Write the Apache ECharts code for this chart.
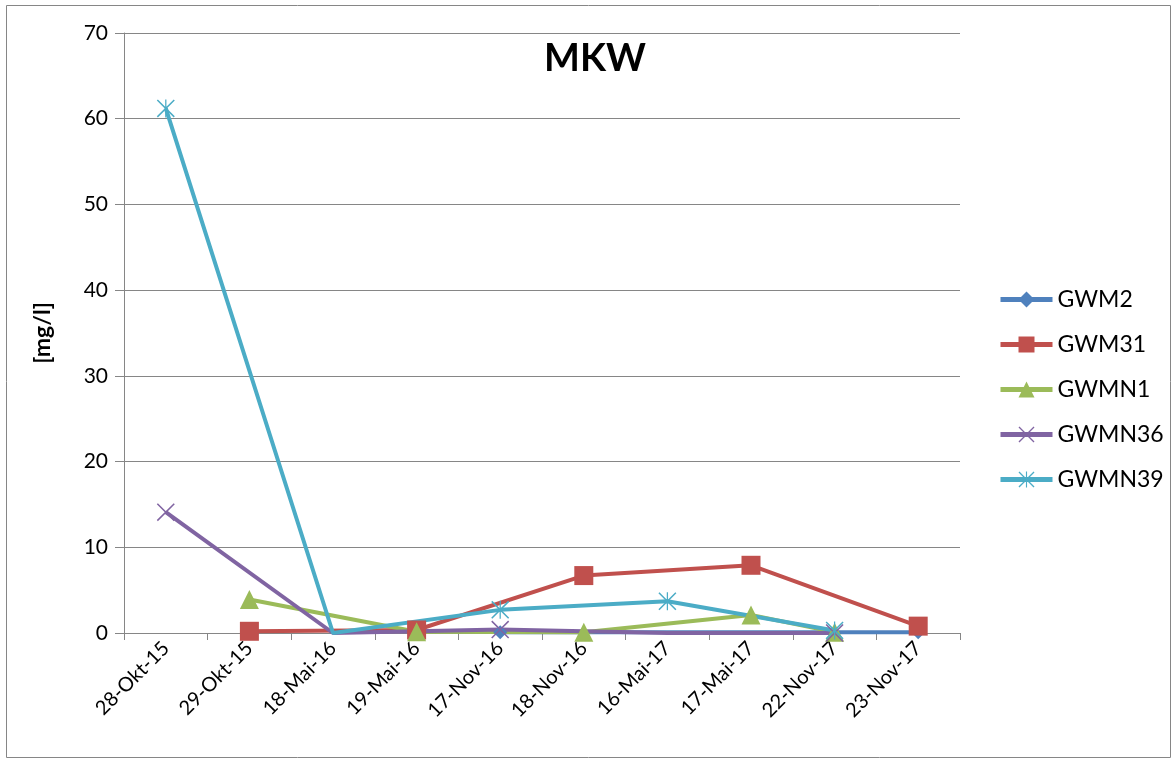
<!DOCTYPE html>
<html><head><meta charset="utf-8">
<script src="https://cdn.jsdelivr.net/npm/echarts@6/dist/echarts.min.js"></script>
<style>html,body{margin:0;padding:0;background:#fff}#c{width:1173px;height:760px}</style>
</head><body><div id="c"></div>
<script>
var categories = ['28-Okt-15','29-Okt-15','18-Mai-16','19-Mai-16','17-Nov-16','18-Nov-16','16-Mai-17','17-Mai-17','22-Nov-17','23-Nov-17'];
var GWM2   = [null, null, null, null, 0.1, null, null, null, null, 0.1];
var GWM31  = [null, 0.2, null, 0.35, null, 6.7, null, 7.9, null, 0.8];
var GWMN1  = [null, 3.9, null, 0.15, null, 0.1, null, 2.1, 0.1, null];
var GWMN36 = [14.1, null, 0, null, 0.4, null, 0, null, 0, null];
var GWMN39 = [61.2, null, 0, null, 2.7, null, 3.7, null, 0.3, null];
var yTicks = {min: 0, max: 70, interval: 10};
// points drawn without a visible marker in the reference
var noMarker = {GWMN36: [2, 6], GWMN39: [2]};

var xPath = 'path://M0,1.2 L1.2,0 L20,18.8 L18.8,20 Z M18.8,0 L20,1.2 L1.2,20 L0,18.8 Z';
var starPath = 'path://M0,1.2 L1.2,0 L20,18.8 L18.8,20 Z M18.8,0 L20,1.2 L1.2,20 L0,18.8 Z M9.3,0 L10.7,0 L10.7,20 L9.3,20 Z';
var font = 'Lato, "Liberation Sans", sans-serif';

function mk(name, data, color, symbol, size) {
  var hide = noMarker[name] || [];
  var items = data.map(function (v, i) {
    return hide.indexOf(i) >= 0 ? {value: v, symbol: 'none'} : v;
  });
  return {
    name: name, type: 'line', data: items, connectNulls: true,
    symbol: symbol, symbolSize: size, showAllSymbol: true,
    lineStyle: {color: color, width: 4},
    itemStyle: {color: color},
    emphasis: {disabled: true}
  };
}

var chart = echarts.init(document.getElementById('c'), null, {renderer: 'canvas'});
chart.setOption({
  animation: false,
  backgroundColor: '#fff',
  title: {text: 'MKW', left: 590, top: 35, textAlign: 'center',
    textStyle: {fontFamily: font, fontSize: 38, fontWeight: 'bold', color: '#000'}},
  color: ['#4F81BD','#C0504D','#9BBB59','#8064A2','#4BACC6'],
  legend: {
    orient: 'vertical', left: 993, top: 283, itemWidth: 52, itemHeight: 20, itemGap: 22,
    lineStyle: {width: 5},
    textStyle: {fontFamily: font, fontSize: 23, color: '#000'},
    data: ['GWM2','GWM31','GWMN1','GWMN36','GWMN39']
  },
  graphic: [{type: 'rect', shape: {x: 6.5, y: 5.5, width: 1164, height: 752},
    style: {fill: 'none', stroke: '#868686', lineWidth: 1}, silent: true}],
  grid: {left: 124, right: 213, top: 33, bottom: 127, containLabel: false},
  xAxis: {
    type: 'category', data: categories, boundaryGap: true,
    axisLine: {lineStyle: {color: '#868686', width: 1}},
    axisTick: {show: true, alignWithLabel: false, length: 7, lineStyle: {color: '#868686'}},
    axisLabel: {interval: 0, rotate: 45, fontFamily: font, fontSize: 20, color: '#000', margin: 12}
  },
  yAxis: {
    type: 'value', min: yTicks.min, max: yTicks.max, interval: yTicks.interval,
    name: '[mg/l]', nameLocation: 'middle', nameGap: 70, nameRotate: 90,
    nameTextStyle: {fontFamily: font, fontSize: 23, fontWeight: 'bold', color: '#000'},
    axisLine: {show: true, lineStyle: {color: '#868686', width: 1}},
    axisTick: {show: true, length: 9, lineStyle: {color: '#868686'}},
    axisLabel: {fontFamily: font, fontSize: 21, color: '#000', margin: 16},
    splitLine: {lineStyle: {color: '#868686', width: 1}}
  },
  series: [
    mk('GWM2', GWM2, '#4F81BD', 'diamond', 14),
    mk('GWM31', GWM31, '#C0504D', 'rect', 19),
    mk('GWMN1', GWMN1, '#9BBB59', 'triangle', 19),
    mk('GWMN36', GWMN36, '#8064A2', xPath, 18),
    mk('GWMN39', GWMN39, '#4BACC6', starPath, 18)
  ]
});
</script>
</body></html>
